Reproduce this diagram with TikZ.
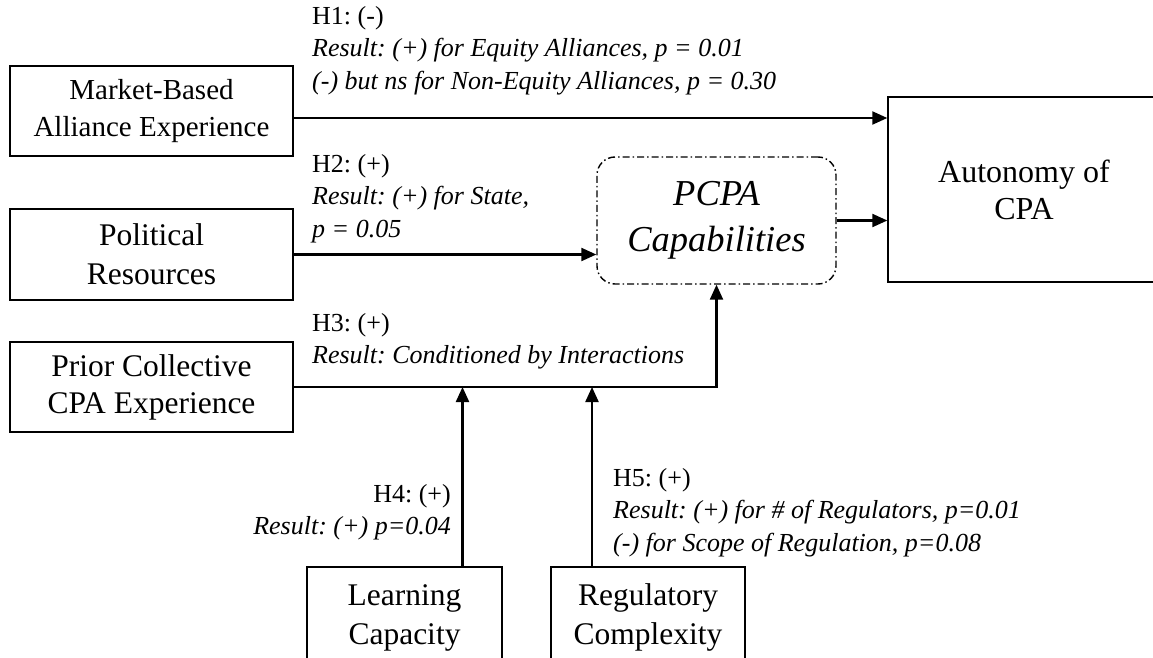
\documentclass[tikz,border=0pt]{standalone}
\usepackage{fontspec}
\setmainfont{Liberation Serif}
\usetikzlibrary{arrows.meta}
\frenchspacing

\tikzset{
	varbox/.style={draw, line width=1.4pt, align=center, inner sep=0pt},
	modbox/.style={draw, line width=1.4pt, rounded corners=18pt, align=center, inner sep=0pt,
		dash pattern=on 7pt off 3pt on 1.5pt off 3pt},
	arr/.style={line width=2.2pt, -{Triangle[length=15pt,width=13pt]}},
	note/.style={align=left, inner sep=0pt, font=\fontsize{26}{32.5}\selectfont},
}

\begin{document}
\begin{tikzpicture}[x=1pt, y=-1pt]
	\useasboundingbox (0,0) rectangle (1153,658);
	\clip (0,0) rectangle (1153,658);
	% variables
	\node[varbox, minimum width=283pt, minimum height=90pt, font=\fontsize{29}{37}\selectfont] (mkt) at (151.5,111) {Market-Based\\Alliance Experience};
	\node[varbox, minimum width=283pt, minimum height=91pt, font=\fontsize{31.5}{39}\selectfont] (pol) at (151.5,254.5) {Political\\Resources};
	\node[varbox, minimum width=283pt, minimum height=90pt, font=\fontsize{31.5}{37}\selectfont] (prior) at (151.5,387) {Prior Collective\\CPA Experience};
	\node[varbox, minimum width=272pt, minimum height=185pt, font=\fontsize{32}{37}\selectfont] (aut) at (1024,189.5) {Autonomy of\\CPA};
	\node[modbox, minimum width=239pt, minimum height=127pt, font=\itshape\fontsize{36.5}{46}\selectfont] (pcpa) at (716.5,220.5) {PCPA\\Capabilities};
	\node[varbox, minimum width=195pt, minimum height=101pt, font=\fontsize{31.5}{39}\selectfont] (learn) at (404.5,617.5) {Learning\\Capacity};
	\node[varbox, minimum width=194pt, minimum height=101pt, font=\fontsize{31.5}{39}\selectfont] (reg) at (648,617.5) {Regulatory\\Complexity};

	% paths
	\draw[arr] ([yshift=-7pt]mkt.east) coordinate (h1s) -- (h1s -| aut.west);
	\draw[arr] (pol.east) -- (pol.east -| pcpa.west);
	\draw[arr] (pcpa.east) -- (pcpa.east -| aut.west);
	\draw[arr] (prior.east) -| (pcpa.south);
	\draw[arr] ([xshift=58pt]learn.north) coordinate (h4s) -- (h4s |- prior.east);
	\draw[arr] ([xshift=-56pt]reg.north) coordinate (h5s) -- (h5s |- prior.east);

	% hypotheses
	\node[note, anchor=north west] (h1) at (312,6) {H1: (-)\\\textit{Result: (+) for Equity Alliances, p = 0.01}\\\textit{(-) but ns for Non-Equity Alliances, p = 0.30}};
	\node[note, anchor=north west] (h2) at (312,154) {H2: (+)\\\textit{Result: (+) for State,}\\\textit{p = 0.05}};
	\node[note, anchor=north west] (h3) at (312,313) {H3: (+)\\\textit{Result: Conditioned by Interactions}};
	\node[note, anchor=north east, align=right] (h4) at (451,484) {H4: (+)\\\textit{Result: (+) p=0.04}};
	\node[note, anchor=north west] (h5) at (613,468) {H5: (+)\\\textit{Result: (+) for \# of Regulators, p=0.01}\\\textit{(-) for Scope of Regulation, p=0.08}};
\end{tikzpicture}
\end{document}
